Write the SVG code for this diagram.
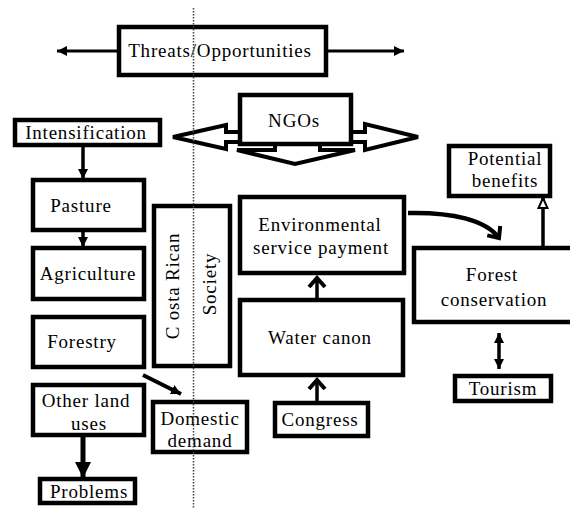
<svg xmlns="http://www.w3.org/2000/svg" width="570" height="508" viewBox="0 0 570 508" font-family="'Liberation Serif', 'Times New Roman', serif">
<style>
.box{fill:#fff;stroke:#000;stroke-width:4.5}
.blk{fill:#fff;stroke:#000;stroke-width:4;stroke-linejoin:miter}
.t{font-family:'Liberation Serif','Times New Roman',serif;font-size:19px;letter-spacing:0.8px;fill:#000;text-anchor:middle}
.ln{stroke:#000;fill:none}
</style>
<defs>
<marker id="tri" markerUnits="userSpaceOnUse" viewBox="0 0 10 10" refX="10" refY="5" markerWidth="10" markerHeight="10" orient="auto-start-reverse"><path d="M0,0 L10,5 L0,10 z" fill="#000"/></marker>
<marker id="big" markerUnits="userSpaceOnUse" viewBox="0 0 16 16" refX="16" refY="8" markerWidth="16" markerHeight="16" orient="auto"><path d="M0,0 L16,8 L0,16 z" fill="#000"/></marker>
<marker id="hol" markerUnits="userSpaceOnUse" viewBox="-1 -1 12 12" refX="10" refY="5" markerWidth="12" markerHeight="12" orient="auto"><path d="M0,0.5 L10,5 L0,9.5 z" fill="#fff" stroke="#000" stroke-width="2"/></marker>
<marker id="chev" markerUnits="userSpaceOnUse" viewBox="0 0 14 18" refX="11" refY="9" markerWidth="14" markerHeight="18" orient="auto" overflow="visible"><path d="M2,1 L11,9 L2,17" fill="none" stroke="#000" stroke-width="4" stroke-linejoin="miter"/></marker>
</defs>

<g id="connectors">
<line class="ln" x1="117" y1="51" x2="57" y2="51" stroke-width="3" marker-end="url(#tri)"/>
<line class="ln" x1="328" y1="51" x2="404" y2="51" stroke-width="3" marker-end="url(#tri)"/>
<line class="ln" x1="83" y1="147" x2="83" y2="179" stroke-width="3.5" marker-end="url(#tri)"/>
<line class="ln" x1="83" y1="232" x2="83" y2="247" stroke-width="3.5" marker-end="url(#tri)"/>
<line class="ln" x1="83" y1="437" x2="83" y2="478" stroke-width="5" marker-end="url(#big)"/>
<line class="ln" x1="143" y1="375" x2="181" y2="394" stroke-width="4" marker-end="url(#tri)"/>
<line class="ln" x1="317" y1="298" x2="317" y2="278" stroke-width="3.5" marker-end="url(#chev)"/>
<line class="ln" x1="317" y1="401" x2="317" y2="380" stroke-width="3.5" marker-end="url(#chev)"/>
<path class="ln" d="M408,213 C452,212 486,220 499,238" stroke-width="4.5" marker-end="url(#chev)"/>
<line class="ln" x1="543" y1="246" x2="543" y2="198" stroke-width="3.5" marker-end="url(#hol)"/>
<line class="ln" x1="499" y1="333" x2="499" y2="369" stroke-width="3.5" marker-start="url(#tri)" marker-end="url(#tri)"/>
</g>

<g id="ngos">
<polygon class="blk" points="240,132 226,132 226,125 173,137 226,149 226,142 240,142"/>
<polygon class="blk" points="351,132 365,132 365,124 418,137 365,150 365,142 351,142"/>
<polygon class="blk" points="275,142 275,150 237,150 295,164 355,150 320,150 320,142"/>
<rect class="box" x="240" y="95" width="111" height="49"/>
<text class="t" x="294" y="127">NGOs</text>
</g>

<g id="threats">
<rect class="box" x="119" y="27" width="207" height="48"/>
<text class="t" x="220" y="57">Threats/Opportunities</text>
</g>

<g id="intensification">
<rect class="box" x="15" y="120" width="145" height="25"/>
<text class="t" x="86" y="139">Intensification</text>
</g>

<g id="pasture">
<rect class="box" x="33" y="180" width="111" height="50"/>
<text class="t" x="81" y="212">Pasture</text>
</g>

<g id="agriculture">
<rect class="box" x="33" y="248" width="111" height="51"/>
<text class="t" x="88" y="280">Agriculture</text>
</g>

<g id="forestry">
<rect class="box" x="33" y="317" width="111" height="50"/>
<text class="t" x="82" y="348">Forestry</text>
</g>

<g id="otherland">
<rect class="box" x="33" y="385" width="111" height="50"/>
<text class="t" x="86" y="407">Other land</text>
<text class="t" x="89" y="430">uses</text>
</g>

<g id="problems">
<rect class="box" x="40" y="479" width="95" height="24"/>
<text class="t" x="89" y="498">Problems</text>
</g>

<g id="costarican">
<rect class="box" x="154" y="206" width="76" height="160"/>
<text class="t" transform="translate(179,286) rotate(-90)">C osta Rican</text>
<text class="t" transform="translate(216,284) rotate(-90)">Society</text>
</g>

<g id="domestic">
<rect class="box" x="153" y="402" width="94" height="50"/>
<text class="t" x="200" y="425">Domestic</text>
<text class="t" x="200" y="447">demand</text>
</g>

<g id="esp">
<rect class="box" x="240" y="197" width="164" height="76"/>
<text class="t" x="320" y="231">Environmental</text>
<text class="t" x="321" y="254">service payment</text>
</g>

<g id="water">
<rect class="box" x="240" y="300" width="163" height="75"/>
<text class="t" x="320" y="344">Water canon</text>
</g>

<g id="congress">
<rect class="box" x="275" y="403" width="93" height="33"/>
<text class="t" x="320" y="426">Congress</text>
</g>

<g id="potential">
<rect class="box" x="449" y="146" width="101" height="50"/>
<text class="t" x="505" y="165">Potential</text>
<text class="t" x="505" y="187">benefits</text>
</g>

<g id="forest">
<rect class="box" x="414" y="248" width="162" height="74"/>
<text class="t" x="492" y="281">Forest</text>
<text class="t" x="494" y="306">conservation</text>
</g>

<g id="tourism">
<rect class="box" x="455" y="376" width="96" height="25"/>
<text class="t" x="503" y="395">Tourism</text>
</g>

<line x1="193.5" y1="8" x2="193.5" y2="508" stroke="#444" stroke-width="1.5" stroke-dasharray="1.5 1.5"/>
</svg>
